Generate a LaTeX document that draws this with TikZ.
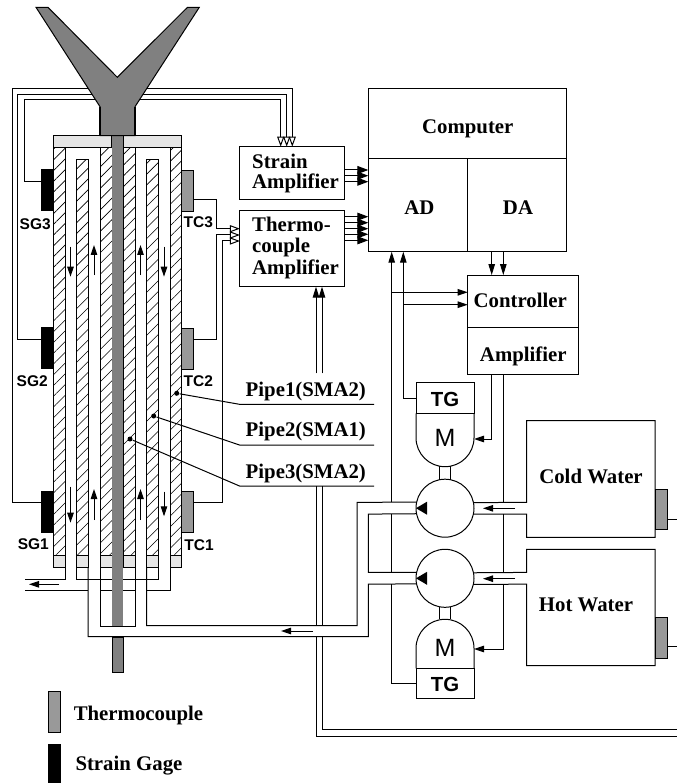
\documentclass[tikz,border=0pt]{standalone}
\usepackage{fontspec}
\setmainfont{Liberation Serif}
\setsansfont{Liberation Sans}
\usetikzlibrary{arrows.meta,patterns.meta}

\definecolor{rodgray}{HTML}{808080}
\definecolor{tcgray}{HTML}{999999}
\definecolor{capgray}{HTML}{E5E5E5}

\tikzset{
    box/.style={draw, inner sep=0pt, outer sep=0pt},
    lab/.style={font=\fontsize{20.8}{20.8}\selectfont\bfseries, inner sep=0pt, anchor=base},
    slab/.style={font=\fontsize{15.5}{15.5}\selectfont\sffamily\bfseries, inner sep=0pt, anchor=base},
    tglab/.style={font=\fontsize{20.4}{20.4}\selectfont\sffamily\bfseries, inner sep=0pt, anchor=base},
    mlab/.style={font=\fontsize{25}{25}\selectfont\sffamily, inner sep=0pt, anchor=base},
    tcouple/.style={box, fill=tcgray, minimum width=12pt, minimum height=41pt},
    sgage/.style={box, fill=black, minimum width=12pt, minimum height=41pt},
    tgbox/.style={box, minimum width=58pt, minimum height=30.7pt},
    pump/.style={circle, draw, fill=white, inner sep=0pt, outer sep=0pt, minimum size=58pt},
    dot/.style={circle, fill=black, inner sep=0pt, minimum size=5pt},
    sigin/.style={-{Triangle[open, length=10pt, width=7pt]}},
    sigout/.style={-{Triangle[length=11pt, width=8pt]}},
    sigup/.style={-{Triangle[length=11pt, width=6.5pt]}},
    flow/.style={-{Triangle[length=10pt, width=6.5pt]}}
}

\begin{document}
\begin{tikzpicture}[x=1pt, y=-1pt, line width=1pt]
    \useasboundingbox (0,0) rectangle (677,783);

    % boxes on the right
    \node[box, minimum width=198.4pt, minimum height=70pt] (computer) at (467.5,123.3) {};
    \node[box, minimum width=99.4pt, minimum height=93.4pt] (ad) at (418,205) {};
    \node[box, minimum width=99pt, minimum height=93.4pt] (da) at (517.2,205) {};
    \node[box, minimum width=104.7pt, minimum height=52.6pt] (strainamp) at (292.3,173) {};
    \node[box, minimum width=104.7pt, minimum height=75.7pt] (thermoamp) at (292.3,248.8) {};
    \node[box, minimum width=110.6pt, minimum height=52.3pt] (controller) at (523,301.2) {};
    \node[box, minimum width=110.6pt, minimum height=47pt] (amplifier) at (523,350.8) {};
    \node[tgbox] (tga) at (445,398) {};
    \node[tgbox] (tgb) at (445,683.6) {};
    \node[pump] (pumpa) at (445,508.2) {};
    \node[pump] (pumpb) at (445,578.3) {};

    \node[lab] (computerlab) at (467.8,133.3) {Computer};
    \node[lab] (adlab) at (419.3,215) {AD};
    \node[lab] (dalab) at (518,215) {DA};
    \node[lab] (controllerlab) at (520.3,307.7) {Controller};
    \node[lab] (amplifierlab) at (523.3,361) {Amplifier};
    \node[lab, anchor=base west] (strainlab) at (251.7,168.3) {Strain};
    \node[lab, anchor=base west] (strainlabb) at (251.7,189) {Amplifier};
    \node[lab, anchor=base west] (thermolab) at (251.7,231.7) {Thermo-};
    \node[lab, anchor=base west] (thermolabb) at (251.7,252.7) {couple};
    \node[lab, anchor=base west] (thermolabc) at (251.7,274) {Amplifier};

    % motors
    \draw (tga.south west) -- (416,437.7) arc[start angle=180, end angle=0, radius=29] -- (tga.south east);
    \draw (416,668.3) -- (416,648.3) arc[start angle=180, end angle=360, radius=29] -- (474,668.3);
    \draw (439,466.2) -- (439,480.2) (450.8,466.2) -- (450.8,480.2);
    \draw (439,606.5) -- (439,619.3) (450.8,606.5) -- (450.8,619.3);
    \node[tglab] (tgalab) at (445,406.7) {TG};
    \node[tglab] (tgblab) at (445,691.7) {TG};
    \node[mlab] (motora) at (445,446.7) {M};
    \node[mlab] (motorb) at (445,656.7) {M};

    % water tanks and pipes
    \node[tcouple, minimum height=40pt] (tcold) at (661.2,509) {};
    \node[tcouple] (thot) at (661.2,638.3) {};
    \draw (pumpa.11.7) -- (526.7,502.3) -- (526.7,420.7) -- (655,420.7) -- (655,537.3) -- (526.7,537.3) -- (526.7,514.1) -- (pumpa.348.3);
    \draw (pumpb.11.7) -- (526.7,572.4) -- (526.7,549.3) -- (655,549.3) -- (655,665.7) -- (526.7,665.7) -- (526.7,584.2) -- (pumpb.348.3);
    \draw (tcold.east |- 0,519) -- (677,519);
    \draw (thot.east |- 0,646.7) -- (677,646.7);
    \node[lab] (coldlab) at (591,483.3) {Cold Water};
    \node[lab] (hotlab) at (586,611) {Hot Water};

    \draw (pumpa.168.3) -- (357,502.3) -- (357,625.7) -- (146.7,625.7) -- (146.7,567.3);
    \draw (pumpb.191.7) -- (368.3,584.2) -- (368.3,636.7) -- (88,636.7) -- (88,567.3);
    \draw (pumpa.191.7) -- (368.3,514.1) -- (368.3,572.4) -- (pumpb.168.3);
    \fill (pumpa.west) -- +(11,-6.5) -- +(11,6.5) -- cycle;
    \fill (pumpb.west) -- +(11,-6.5) -- +(11,6.5) -- cycle;
    \draw[flow] (515,508.3) -- (483,508.3);
    \draw[flow] (515,578.7) -- (483,578.7);
    \draw[flow] (313,631) -- (281,631);

    % signal wires
    \foreach \y in {170,175.7,181.7}
        \draw[sigout] (strainamp.east |- 0,\y) -- (ad.west |- 0,\y);
    \foreach \y in {216.7,222.7,228.7,234.3,240.3}
        \draw[sigout] (thermoamp.east |- 0,\y) -- (ad.west |- 0,\y);
    \foreach \x in {491.7,503.3}
        \draw[sigup] (da.south -| \x,0) -- (controller.north -| \x,0);
    \draw[flow] (391.7,292.3) -- (controller.west |- 0,292.3);
    \draw[flow] (403.3,304.7) -- (controller.west |- 0,304.7);
    \draw[sigup] (391.7,502.3) -- (ad.south -| 391.7,0);
    \draw (391.7,514.1) -- (391.7,572.4);
    \draw (tgb.west) -- (391.7,683.6) -- (391.7,584.2);
    \draw[sigup] (tga.west) -- (403.3,398) -- (ad.south -| 403.3,0);
    \draw[flow] (amplifier.south -| 491.7,0) -- (491.7,439) -- (474,439);
    \draw (amplifier.south -| 503.3,0) -- (503.3,502.3);
    \draw (503.3,514.1) -- (503.3,572.4);
    \draw[flow] (503.3,584.2) -- (503.3,649) -- (474,649);

    \draw[sigup] (316,373.3) -- (thermoamp.south -| 316,0);
    \draw[sigup] (322,373.3) -- (thermoamp.south -| 322,0);
    \draw (316.7,486) -- (316.7,625.7) (322.7,486) -- (322.7,625.7);
    \draw (316.7,636.7) -- (316.7,736.7) -- (677,736.7);
    \draw (322.7,636.7) -- (322.7,729) -- (677,729);

    % strain gages and thermocouples on the column
    \node[sgage] (sg3) at (47,190.5) {};
    \node[sgage] (sg2) at (47,348) {};
    \node[sgage] (sg1) at (47,511.7) {};
    \node[tcouple] (tc3) at (187,190.8) {};
    \node[tcouple] (tc2) at (187,348.7) {};
    \node[tcouple] (tc1) at (187,512) {};
    \node[slab] (sg3lab) at (35.2,229.3) {SG3};
    \node[slab] (sg2lab) at (32.2,386.7) {SG2};
    \node[slab] (sg1lab) at (33.3,549) {SG1};
    \node[slab] (tc3lab) at (198.3,227.7) {TC3};
    \node[slab] (tc2lab) at (198.3,386.7) {TC2};
    \node[slab] (tc1lab) at (199,550.7) {TC1};

    \draw[sigin] (sg1.west |- 0,502.7) -- (12,502.7) -- (12,89) -- (292.3,89) -- (strainamp.north -| 292.3,0);
    \draw[sigin] (sg2.west |- 0,339) -- (17.7,339) -- (17.7,94.3) -- (286.7,94.3) -- (strainamp.north -| 286.7,0);
    \draw[sigin] (sg3.west |- 0,181.7) -- (24,181.7) -- (24,100) -- (280.7,100) -- (strainamp.north -| 280.7,0);
    \draw[sigin] (tc3.east |- 0,199.7) -- (216,199.7) -- (216,228.7) -- (thermoamp.west |- 0,228.7);
    \draw[sigin] (tc2.east |- 0,339) -- (216,339) -- (216,235) -- (thermoamp.west |- 0,235);
    \draw[sigin] (tc1.east |- 0,502.7) -- (222.3,502.7) -- (222.3,241) -- (thermoamp.west |- 0,241);

    % pipe walls
    \foreach \xa/\xb/\ya in {53/65/147.3, 100/112/147.3, 123/135/147.3, 170/181/147.3, 76.5/88/159.3, 146.5/158/159.3}
        \draw[pattern={Lines[angle=45, distance=7.6pt, line width=0.6pt]}] (\xa,\ya) rectangle (\xb,555.7);
    \foreach \xa/\xb in {53/111, 123/181}
        \draw[fill=capgray] (\xa,135.7) rectangle (\xb,147.3);
    \foreach \xa/\xb in {53/65, 76.5/88, 100/112, 123/135, 146.5/158, 170/181}
        \draw[fill=capgray] (\xa,555.7) rectangle (\xb,567.3);

    % plumbing under the column
    \draw (65,567.3) -- (65,579) -- (25,579);
    \draw (25,590.7) -- (88,590.7);
    \draw (76.5,567.3) -- (76.5,579) -- (158,579) -- (158,567.3);
    \draw (100,567.3) -- (100,626) -- (135,626) -- (135,567.3);
    \draw (100,590.7) -- (135,590.7);
    \draw (146.7,590.7) -- (170,590.7) -- (170,567.3);
    \draw[flow] (59,584.3) -- (29,584.3);

    % rod with its fork
    \fill[rodgray] (112,135.7) rectangle (123,626);
    \draw[fill=rodgray] (36,7.3) -- (48,7.3) -- (117.3,77.3) -- (187.5,7.3) -- (199.3,7.3) -- (135,106.7) -- (135,135.7) -- (100,135.7) -- (100,106.7) -- cycle;
    \draw[line width=1.6pt] (100,106.7) -- (100,135.7) (135,106.7) -- (135,135.7);
    \draw[fill=rodgray] (112,637.7) rectangle (123,672.7);

    % flow in the channels
    \foreach \x/\ya/\yb in {70.5/246.7/276.7, 70.5/486.7/522.7, 164/246.7/276.7, 164/491.7/516.3, 94/275/245, 94/520/489, 140.5/275/245, 140.5/520/489}
        \draw[flow] (\x,\ya) -- (\x,\yb);

    % pipe names
    \node[dot] (dota) at (176.7,393.3) {};
    \node[dot] (dotb) at (153.7,416) {};
    \node[dot] (dotc) at (130,439) {};
    \node[lab] (pipealab) at (305.8,396) {Pipe1(SMA2)};
    \node[lab] (pipeblab) at (305.8,436.7) {Pipe2(SMA1)};
    \node[lab] (pipeclab) at (305.8,478.3) {Pipe3(SMA2)};
    \draw (dota) -- (239.5,404.3) -- (374,404.3);
    \draw (dotb) -- (239.5,445) -- (374,445);
    \draw (dotc) -- (239.5,486) -- (374,486);

    % legend
    \node[tcouple] (legendtc) at (54,712) {};
    \node[sgage] (legendsg) at (54,764.5) {};
    \node[lab, anchor=base west] (legendtclab) at (73.3,720) {Thermocouple};
    \node[lab, anchor=base west] (legendsglab) at (75,770) {Strain Gage};
\end{tikzpicture}
\end{document}
